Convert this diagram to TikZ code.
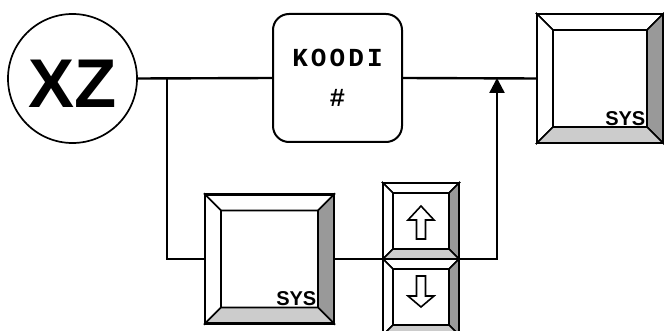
\documentclass[tikz,border=0pt]{standalone}
\usepackage{fontspec}
\setmainfont{Liberation Sans}[BoldFont={Liberation Sans Bold}]
\setmonofont{Liberation Mono}[BoldFont={Liberation Mono Bold}]
\newfontfamily\koodifont{Liberation Mono}[LetterSpace=12, BoldFont={Liberation Mono Bold}]
\usetikzlibrary{calc,positioning,arrows.meta}

\tikzset{
  wire/.style={line width=2.4pt},
  bevel/.style={line width=1.6pt, line join=miter},
  keycap/.style={inner sep=0pt, outer sep=0pt},
  syslabel/.style={font=\bfseries\fontsize{20}{20}\selectfont, inner sep=1.5pt, anchor=south east},
  arrowglyph/.style={line width=1.6pt, fill=white, line join=miter}
}

% bevelled key face: #1 node name, #2 bevel width
\newcommand\keybevel[2]{%
  \coordinate (#1-a) at ($(#1.north west)+(#2,#2)$);
  \coordinate (#1-b) at ($(#1.north east)+(-#2,#2)$);
  \coordinate (#1-c) at ($(#1.south east)+(-#2,-#2)$);
  \coordinate (#1-d) at ($(#1.south west)+(#2,-#2)$);
  \filldraw[bevel, fill=white] (#1.north west) -- (#1.north east) -- (#1-b) -- (#1-a) -- cycle;
  \filldraw[bevel, fill=white] (#1.north west) -- (#1-a) -- (#1-d) -- (#1.south west) -- cycle;
  \filldraw[bevel, fill=black!40] (#1.north east) -- (#1.south east) -- (#1-c) -- (#1-b) -- cycle;
  \filldraw[bevel, fill=black!20] (#1.south west) -- (#1.south east) -- (#1-c) -- (#1-d) -- cycle;
  \draw[bevel] (#1-a) rectangle (#1-c);
  \draw[line width=2.2pt] (#1.north west) rectangle (#1.south east);
}

\begin{document}
\begin{tikzpicture}[x=1pt, y=-1pt]
  \useasboundingbox (0,0) rectangle (664,331);

  \node[draw, circle, line width=1.7pt, minimum size=129, inner sep=0pt,
        text height=59, text depth=0,
        font=\bfseries\fontsize{69}{69}\selectfont] (xz) at (72.5,78.5) {XZ};
  \node[draw, rounded corners=16, line width=2pt, minimum width=129, minimum height=128,
        align=center, font=\koodifont\bfseries\fontsize{26}{40}\selectfont] (koodi) at (337.5,78) {KOODI\\\#};

  \node[keycap, minimum width=126, minimum height=129] (sysA) at (600,78.5) {};
  \node[keycap, minimum width=129, minimum height=129] (sysB) at (269.5,259) {};
  \node[keycap, minimum width=76, minimum height=76] (up) at (421,221) {};
  \node[keycap, minimum width=76, minimum height=76, below=0pt of up] (down) {};

  \coordinate (br) at (167,78);
  \coordinate (tip) at (497,78);

  % connectors
  \draw[wire] (xz.east) -- (koodi.west);
  \draw[wire] (koodi.east) -- (sysA.west);
  \draw[wire] (br) |- (sysB.west);
  \draw[wire] (sysB.east) -- (up.south west);
  \draw[wire, -{Triangle[length=15pt, width=15pt]}] (up.south east) -| (tip);

  % keys
  \keybevel{sysA}{16}
  \keybevel{sysB}{16}
  \keybevel{up}{10}
  \keybevel{down}{10}
  \draw[wire] (up.south west) -- (up.south east);

  \node[syslabel] (sysAtext) at (sysA-c) {SYS};
  \node[syslabel] (sysBtext) at (sysB-c) {SYS};

  % arrow glyphs
  \draw[arrowglyph] ($(up.north)+(0,23)$) -- ++(13,14) -- ++(-8.5,0) -- ++(0,19)
    -- ++(-9,0) -- ++(0,-19) -- ++(-8.5,0) -- cycle;
  \draw[arrowglyph] ($(down.north)+(0,48)$) -- ++(13,-11) -- ++(-8.5,0) -- ++(0,-20)
    -- ++(-9,0) -- ++(0,20) -- ++(-8.5,0) -- cycle;
\end{tikzpicture}
\end{document}
